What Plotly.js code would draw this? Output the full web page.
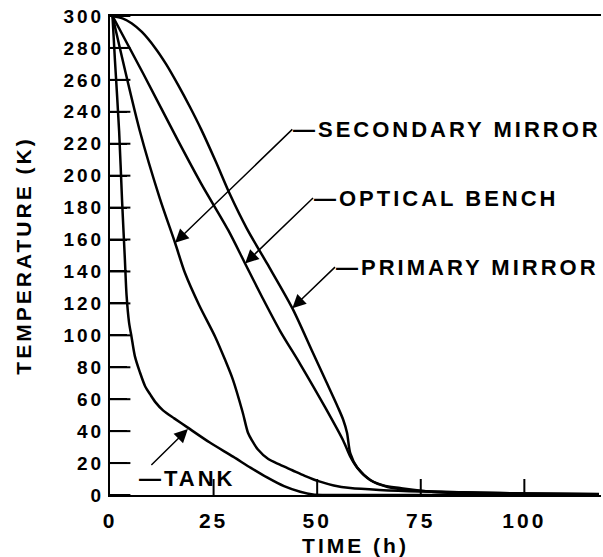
<!DOCTYPE html>
<html>
<head>
<meta charset="utf-8">
<script src="https://cdn.plot.ly/plotly-3.0.1.min.js"></script>
<style>
  html, body { margin: 0; padding: 0; background: #fff; }
  svg text { letter-spacing: 3px; }
</style>
</head>
<body>
<div id="chart" style="width:603px;height:557px;"></div>
<script>
// ---- data (time in h, temperature in K) ----
const tankTime = [0.6, 1.2, 2.2, 2.9, 3.6, 4.0, 4.6, 5.2, 6.0, 7.2, 8.5, 9.7, 11, 12.8, 15.5, 18.6, 24, 29.7, 34, 37.9, 42, 45.9, 49, 52, 118];
const tankTemp = [300, 272, 228, 185, 147, 125, 108, 99, 87, 77, 68, 63, 58, 53, 48, 42.5, 33, 24, 17, 11, 5.5, 2, 0.3, 0, 0];

const secondaryTime = [0.6, 7.2, 12, 15.7, 18.1, 21.5, 25.4, 27.8, 29.7, 32, 33.3, 34.3, 35.7, 38.2, 41, 44, 47, 50.5, 54, 58, 65, 75, 99, 118];
const secondaryTemp = [300, 228, 186, 158, 139, 119, 99, 84.5, 72, 52, 39, 34, 28.5, 22.5, 19, 15.5, 12, 8.5, 6, 4.4, 3.2, 2.2, 1, 0.5];

const benchTime = [0.6, 8, 16.2, 22, 28.5, 32.6, 36.7, 41, 45.9, 51.9, 56.3, 58, 59.7, 62.8, 67, 72.5, 80, 94, 118];
const benchTemp = [300, 264, 223, 195, 166, 145, 124, 103, 82, 55, 34, 24, 17, 9.4, 5, 3, 2, 1.2, 0.6];

const primaryTime = [0.6, 3, 5.2, 7.7, 10.9, 13.5, 16.4, 19.3, 22, 25.5, 29, 33, 37.9, 44, 48.8, 52, 55, 56.3, 57.2, 58, 59.7, 62.8, 66, 70, 78, 94, 118];
const primaryTemp = [300, 298.5, 295.5, 290, 280, 270, 257, 243, 229, 209, 188, 167, 145, 117, 90, 72, 55, 47, 39, 26, 17, 9.4, 6, 4.4, 1.9, 0.7, 0.5];

const xTickVals = [0, 25, 50, 75, 100];
const yTickVals = [0, 20, 40, 60, 80, 100, 120, 140, 160, 180, 200, 220, 240, 260, 280, 300];

const labelSecondary = "SECONDARY MIRROR";
const labelBench = "OPTICAL BENCH";
const labelPrimary = "PRIMARY MIRROR";
const labelTank = "TANK";

// ---- chart ----
const FONT = 'Liberation Sans, Arial, sans-serif';
const W = 603, H = 557;
const margin = {l: 110, r: 2, t: 16, b: 62};
const xRange = [0, 118.5], yRange = [0, 300];
const plotW = W - margin.l - margin.r, plotH = H - margin.t - margin.b;
// inside tick length / width in pixels converted to data units
const yTickLen = 17 * (xRange[1] - xRange[0]) / plotW;
const yTickThick = 2 * (yRange[1] - yRange[0]) / plotH;
const xTickLen = 16 * (yRange[1] - yRange[0]) / plotH;

const lineStyle = {color: '#000', width: 2.5, shape: 'spline', smoothing: 0.8};
const mk = (x, y, name) => ({x: x, y: y, name: name, type: 'scatter', mode: 'lines', line: lineStyle, hoverinfo: 'skip'});

const xTickX = [], xTickY = [];
xTickVals.filter(v => v > xRange[0]).forEach(v => { xTickX.push(v, v, null); xTickY.push(yRange[0], yRange[0] + xTickLen, null); });

const traces = [
  // inside ticks of the temperature axis, drawn as thin horizontal bars
  {type: 'bar', orientation: 'h', y: yTickVals, x: yTickVals.map(() => yTickLen), base: 0,
   width: yTickThick, marker: {color: '#000', line: {width: 0}}, hoverinfo: 'skip'},
  // the same ticks as line markers
  {type: 'scatter', mode: 'markers', y: yTickVals, x: yTickVals.map(() => yTickLen / 2),
   marker: {symbol: 'line-ew', size: 17, color: '#000', line: {color: '#000', width: 2}}, hoverinfo: 'skip'},
  mk(tankTime, tankTemp, labelTank),
  mk(secondaryTime, secondaryTemp, labelSecondary),
  mk(benchTime, benchTemp, labelBench),
  mk(primaryTime, primaryTemp, labelPrimary),
  {x: xTickX, y: xTickY, type: 'scatter', mode: 'lines', line: {color: '#000', width: 2}, hoverinfo: 'skip', connectgaps: false}
];

const annFont = {family: FONT, size: 22, color: '#000', weight: 'bold'};
function ann(text, headX, headY, tailX, tailY) {
  return {
    x: headX, y: headY, xref: 'x', yref: 'y',
    ax: tailX, ay: tailY, axref: 'x', ayref: 'y',
    text: '\u2014' + text, xanchor: 'left', yanchor: 'middle',
    showarrow: true, arrowhead: 2, arrowsize: 1.8, arrowwidth: 1.5, arrowcolor: '#000',
    font: annFont, borderpad: 0
  };
}

const layout = {
  width: W, height: H,
  margin: margin,
  showlegend: false,
  bargap: 0,
  xaxis: {
    range: xRange, tickvals: xTickVals,
    ticks: '', showline: true, linewidth: 2, linecolor: '#000', mirror: true,
    showgrid: false, zeroline: false, ticklabelstandoff: 6,
    tickfont: {family: FONT, size: 21, color: '#000', weight: 'bold'},
    title: {text: 'TIME (h)', font: {family: FONT, size: 21, color: '#000', weight: 'bold'}, standoff: 8}
  },
  yaxis: {
    range: yRange, tickvals: yTickVals,
    ticks: 'inside', ticklen: 17, tickwidth: 2, tickcolor: '#000',
    showline: true, linewidth: 2, linecolor: '#000',
    showgrid: false, zeroline: false,
    tickfont: {family: FONT, size: 19, color: '#000', weight: 'bold'},
    title: {text: 'TEMPERATURE (K)', font: {family: FONT, size: 21, color: '#000', weight: 'bold'}, standoff: 26}
  },
  annotations: [
    ann(labelSecondary, 15.7, 158, 44, 229),
    ann(labelBench, 32.6, 145, 49, 186),
    ann(labelPrimary, 44, 117, 54.3, 142.7),
    ann(labelTank, 18.8, 41.3, 6.8, 10.6)
  ]
};

Plotly.newPlot('chart', traces, layout, {displayModeBar: false, staticPlot: true});
</script>
</body>
</html>
